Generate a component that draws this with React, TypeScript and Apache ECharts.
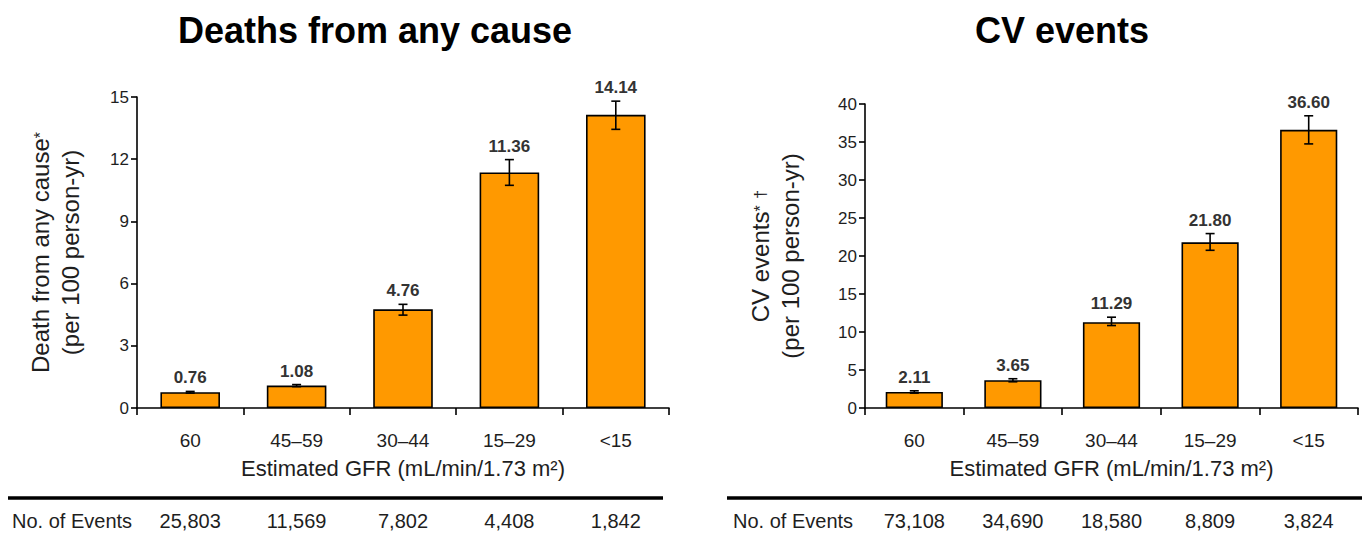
import React, { useEffect, useRef } from "react";
import * as echarts from "echarts";

// GFR categories shared by both panels
const categories = ["60", "45–59", "30–44", "15–29", "<15"];

// Deaths from any cause (per 100 person-yr) with 95% CI
const deathRates = [0.76, 1.08, 4.76, 11.36, 14.14];
const deathLow = [0.72, 1.03, 4.48, 10.74, 13.44];
const deathHigh = [0.8, 1.13, 5.0, 11.98, 14.8];
const deathEvents = ["25,803", "11,569", "7,802", "4,408", "1,842"];

// CV events (per 100 person-yr) with 95% CI
const cvRates = [2.11, 3.65, 11.29, 21.8, 36.6];
const cvLow = [1.96, 3.45, 10.85, 20.75, 34.75];
const cvHigh = [2.26, 3.85, 11.95, 22.95, 38.45];
const cvEvents = ["73,108", "34,690", "18,580", "8,809", "3,824"];

const deathTicks = { min: 0, max: 15, interval: 3 };
const cvTicks = { min: 0, max: 40, interval: 5 };

const FONT = "'Liberation Sans', Arial, Helvetica, sans-serif";
const INK = "#1e1e1e";
const ORANGE = "#FF9900";

function errorSeries(gridIdx: number, rates: number[], low: number[], high: number[]) {
  return {
    type: "custom",
    xAxisIndex: gridIdx * 2,
    yAxisIndex: gridIdx,
    z: 5,
    data: rates.map((r, i) => [i, low[i], high[i], r]),
    renderItem: (params: any, api: any) => {
      const idx = api.value(0);
      const lo = api.coord([idx, api.value(1)]);
      const hi = api.coord([idx, api.value(2)]);
      const half = 4.5;
      const ls = { stroke: "#000", lineWidth: 1.6 };
      return {
        type: "group",
        children: [
          { type: "line", shape: { x1: hi[0], y1: hi[1], x2: lo[0], y2: lo[1] }, style: ls },
          { type: "line", shape: { x1: hi[0] - half, y1: hi[1], x2: hi[0] + half, y2: hi[1] }, style: ls },
          { type: "line", shape: { x1: lo[0] - half, y1: lo[1], x2: lo[0] + half, y2: lo[1] }, style: ls },
          {
            type: "text",
            x: hi[0],
            y: hi[1] - 5,
            style: {
              text: Number(api.value(3)).toFixed(2),
              fill: "#333",
              font: `bold 17px ${FONT}`,
              align: "center",
              verticalAlign: "bottom",
            },
          },
        ],
      };
    },
  };
}

function barSeries(gridIdx: number, rates: number[], width: string) {
  return {
    type: "bar",
    xAxisIndex: gridIdx * 2,
    yAxisIndex: gridIdx,
    data: rates,
    barWidth: width,
    itemStyle: { color: ORANGE, borderColor: "#000", borderWidth: 1.6 },
  };
}

function catAxis(gridIdx: number) {
  return {
    type: "category",
    gridIndex: gridIdx,
    data: categories,
    position: "bottom",
    axisLine: { lineStyle: { color: "#000", width: 1.6 } },
    axisTick: { show: true, length: 7, lineStyle: { color: "#000", width: 1.6 } },
    axisLabel: { color: INK, fontSize: 19, fontFamily: FONT, margin: 23 },
    name: "Estimated GFR (mL/min/1.73 m²)",
    nameLocation: "middle",
    nameGap: 49,
    nameTextStyle: { color: INK, fontSize: 22, fontFamily: FONT },
  };
}

function eventsAxis(gridIdx: number, events: string[]) {
  return {
    type: "category",
    gridIndex: gridIdx,
    data: events,
    position: "bottom",
    offset: 95,
    axisLine: { show: false },
    axisTick: { show: false },
    axisLabel: { color: INK, fontSize: 20, fontFamily: FONT, margin: 8 },
  };
}

function valAxis(gridIdx: number, ticks: { min: number; max: number; interval: number }, name: string, gap: number) {
  return {
    type: "value",
    gridIndex: gridIdx,
    min: ticks.min,
    max: ticks.max,
    interval: ticks.interval,
    splitLine: { show: false },
    axisLine: { show: true, lineStyle: { color: "#000", width: 1.6 } },
    axisTick: { show: true, length: 6, lineStyle: { color: "#000", width: 1.6 } },
    axisLabel: { color: INK, fontSize: 17, fontFamily: FONT, margin: 8 },
    name,
    nameLocation: "middle",
    nameRotate: 90,
    nameGap: gap,
    nameTextStyle: {
      color: INK,
      fontSize: 24,
      fontFamily: FONT,
      lineHeight: 30,
      rich: {
        a: { fontSize: 24, fontFamily: FONT, color: INK, lineHeight: 30 },
        s: { fontSize: 16, fontFamily: FONT, color: INK, lineHeight: 30, verticalAlign: "middle" },
      },
    },
  };
}

export default function App() {
  const ref = useRef<HTMLDivElement>(null);

  useEffect(() => {
    if (!ref.current) return;
    const chart = echarts.init(ref.current, undefined, { renderer: "svg" });
    chart.setOption({
      animation: false,
      backgroundColor: "#fff",
      grid: [
        { left: 137, top: 97, width: 532, height: 311 },
        { left: 865, top: 104, width: 493, height: 304 },
      ],
      xAxis: [catAxis(0), eventsAxis(0, deathEvents), catAxis(1), eventsAxis(1, cvEvents)],
      yAxis: [
        valAxis(0, deathTicks, "{a|Death from any cause}{s|*}\n{a|(per 100 person-yr)}", 52),
        valAxis(1, cvTicks, "{a|CV events}{s|*}{a| }{s|†}\n{a|(per 100 person-yr)}", 60),
      ],
      series: [
        barSeries(0, deathRates, "56%"),
        errorSeries(0, deathRates, deathLow, deathHigh),
        barSeries(1, cvRates, "58%"),
        errorSeries(1, cvRates, cvLow, cvHigh),
      ],
      graphic: [
        {
          type: "text",
          x: 375,
          y: 30,
          style: { text: "Deaths from any cause", fill: "#000", font: `bold 36px ${FONT}`, align: "center", verticalAlign: "middle" },
        },
        {
          type: "text",
          x: 1062,
          y: 30,
          style: { text: "CV events", fill: "#000", font: `bold 36px ${FONT}`, align: "center", verticalAlign: "middle" },
        },
        { type: "line", shape: { x1: 8, y1: 498, x2: 663, y2: 498 }, style: { stroke: "#000", lineWidth: 3.5 } },
        { type: "line", shape: { x1: 727, y1: 498, x2: 1362, y2: 498 }, style: { stroke: "#000", lineWidth: 3.5 } },
        {
          type: "text",
          x: 12,
          y: 521,
          style: { text: "No. of Events", fill: INK, font: `20px ${FONT}`, align: "left", verticalAlign: "middle" },
        },
        {
          type: "text",
          x: 733,
          y: 521,
          style: { text: "No. of Events", fill: INK, font: `20px ${FONT}`, align: "left", verticalAlign: "middle" },
        },
      ],
    });
    return () => chart.dispose();
  }, []);

  return (
    <div
      ref={ref}
      style={{ position: "absolute", left: 0, top: 0, width: 1362, height: 539, background: "#fff" }}
    />
  );
}
